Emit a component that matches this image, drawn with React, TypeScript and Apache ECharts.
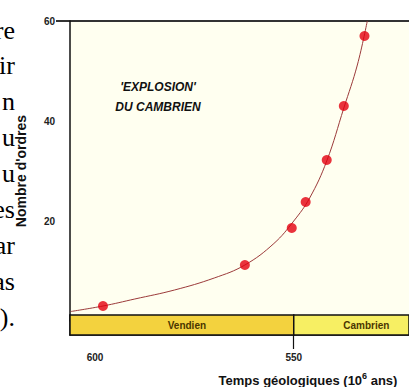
import React, { useEffect, useRef } from "react";
import * as echarts from "echarts";

// Observed points : age (Ma) and number of orders
const pointYears = [598.0, 562.3, 550.5, 547.0, 541.7, 537.4, 532.2];
const pointOrders = [3.0, 11.2, 18.6, 23.8, 32.2, 43.0, 57.0];

// Fitted curve
const curveYears = [606.1, 598.0, 590.0, 580.0, 570.0, 562.3, 555.0, 550.0, 546.0, 541.7, 537.4, 534.0, 531.5];
const curveOrders = [1.9, 3.0, 4.4, 6.2, 8.6, 11.2, 15.5, 20.0, 24.6, 32.0, 42.6, 51.2, 60.0];

const xTickValues = [600, 550];
const periodNames = ["Vendien", "Cambrien"];
const periodBounds = [606.3, 550, 521];
const periodColors = ["#f3d23e", "#f7ef63"];

const sideText = ["re", "ir", "n", "u", "u", "es", "ar", "as", ")."];

const xMin = 521;
const xMax = 606.3;

export default function App() {
  const ref = useRef<HTMLDivElement>(null);
  useEffect(() => {
    if (!ref.current) return;
    const chart = echarts.init(ref.current, null, { renderer: "svg" });
    const sans = "'Liberation Sans', Arial, sans-serif";
    const option: any = {
      animation: false,
      backgroundColor: "#ffffff",
      grid: [
        { left: 70, top: 21, width: 339, height: 300, show: true, backgroundColor: "#fffff0", borderWidth: 0 },
        { left: 70, top: 315, width: 339, height: 20, show: false },
      ],
      xAxis: [
        {
          type: "value", gridIndex: 0, min: xMin, max: xMax, inverse: true,
          axisLine: { show: false }, axisTick: { show: false }, axisLabel: { show: false }, splitLine: { show: false },
        },
        {
          type: "value", gridIndex: 1, min: xMin, max: xMax, inverse: true,
          axisLine: { show: true, onZero: false, lineStyle: { color: "#111", width: 1.5 } },
          axisTick: { show: true, customValues: [550], length: 14, lineStyle: { color: "#111", width: 1.2 } },
          axisLabel: {
            show: true, customValues: xTickValues, margin: 17, fontSize: 10, fontWeight: "bold",
            color: "#222", fontFamily: sans,
          },
          splitLine: { show: false },
        },
      ],
      yAxis: [
        {
          type: "value", gridIndex: 0, min: 0, max: 60, interval: 20,
          axisLine: { show: true, lineStyle: { color: "#111", width: 1.5 } },
          axisTick: { show: false },
          axisLabel: {
            margin: 15, fontSize: 10, fontWeight: "bold", color: "#222", fontFamily: sans,
            formatter: (v: number) => (v === 0 ? "" : String(v)),
          },
          splitLine: { show: false },
          name: "Nombre d'ordres", nameLocation: "middle", nameGap: 42, nameRotate: 90,
          nameTextStyle: { fontSize: 14, fontWeight: "bold", color: "#111", fontFamily: sans },
        },
        {
          type: "value", gridIndex: 1, min: 0, max: 1,
          axisLine: { show: true, lineStyle: { color: "#111", width: 1.5 } },
          axisTick: { show: false }, axisLabel: { show: false }, splitLine: { show: false },
        },
      ],
      series: [
        {
          type: "line", xAxisIndex: 0, yAxisIndex: 0, smooth: 0.4, showSymbol: false, symbol: "none",
          data: curveYears.map((x, i) => [x, curveOrders[i]]),
          lineStyle: { color: "#9b3a3a", width: 1 }, z: 2,
        },
        {
          type: "scatter", xAxisIndex: 0, yAxisIndex: 0, symbolSize: 10,
          data: pointYears.map((x, i) => [x, pointOrders[i]]),
          itemStyle: { color: "#e3000f" }, z: 3,
        },
        {
          type: "line", xAxisIndex: 1, yAxisIndex: 1, data: [],
          markArea: {
            silent: true,
            data: periodNames.map((n, i) => [
              {
                name: n, xAxis: periodBounds[i],
                itemStyle: { color: periodColors[i], borderColor: "#111", borderWidth: 1.5 },
                label: { offset: i === 1 ? [15, 0] : [5, 0] },
              },
              { xAxis: periodBounds[i + 1] },
            ]),
            label: {
              position: "inside", fontSize: 10, fontWeight: "bold", color: "#4a3600", fontFamily: sans,
            },
          },
        },
      ],
      graphic: [
        { type: "line", shape: { x1: 56, y1: 21, x2: 409, y2: 21 }, style: { stroke: "#333", lineWidth: 2 } },
        {
          type: "text", x: 158, y: 87,
          style: { text: "'EXPLOSION'", fill: "#111", font: "italic bold 12px 'Liberation Sans', Arial, sans-serif", textAlign: "center", textVerticalAlign: "middle" },
        },
        {
          type: "text", x: 158, y: 107,
          style: { text: "DU CAMBRIEN", fill: "#111", font: "italic bold 12px 'Liberation Sans', Arial, sans-serif", textAlign: "center", textVerticalAlign: "middle" },
        },
        {
          type: "text", x: 308, y: 380,
          style: {
            text: "{a|Temps géologiques (10}{s|6}{a| ans)}", textAlign: "center", textVerticalAlign: "middle",
            rich: {
              a: { fontSize: 13, fontWeight: "bold", fill: "#111", fontFamily: sans },
              s: { fontSize: 9, fontWeight: "bold", fill: "#111", fontFamily: sans, padding: [0, 0, 9, 0] },
            },
          },
        },
        ...sideText.map((t, i) => ({
          type: "text", x: 15, y: 39 + i * 35.9 - 9,
          style: {
            text: t, fill: "#000", font: "26px 'Liberation Serif', 'Times New Roman', serif",
            textAlign: "right", textVerticalAlign: "middle",
          },
        })),
      ],
    };
    chart.setOption(option);
    return () => chart.dispose();
  }, []);
  return <div ref={ref} style={{ position: "fixed", left: 0, top: 0, width: 409, height: 387 }} />;
}
